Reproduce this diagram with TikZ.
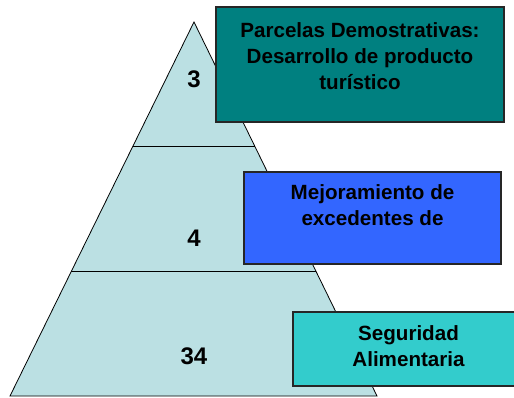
\documentclass[tikz,border=0pt]{standalone}
\usepackage{fontspec}
\setmainfont{Liberation Sans}
\usetikzlibrary{calc}

\definecolor{pyrfill}{HTML}{BBE0E3}
\definecolor{tealbox}{HTML}{008080}
\definecolor{bluebox}{HTML}{3366FF}
\definecolor{cyanbox}{HTML}{33CCCC}

\tikzset{
    level/.style={fill=pyrfill, draw=black, line width=0.8pt, line join=miter},
    infobox/.style={draw=black!85, line width=1.6pt},
    count/.style={anchor=base, inner sep=0pt, font=\fontsize{24}{26}\selectfont\bfseries},
    boxtext/.style={anchor=north, inner sep=0pt, align=center, font=\fontsize{20.6}{26}\selectfont\bfseries}
}

\begin{document}
\begin{tikzpicture}[x=1pt, y=-1pt]
    \useasboundingbox (0,0) rectangle (514,397);
    \clip (0,0) rectangle (514,397);

    \coordinate (Top) at (194,22);
    \coordinate (BL) at (10,396);
    \coordinate (BR) at (377,396);

    \coordinate (L1) at ($(Top)!1/3!(BL)$);
    \coordinate (R1) at ($(Top)!1/3!(BR)$);
    \coordinate (L2) at ($(Top)!2/3!(BL)$);
    \coordinate (R2) at ($(Top)!2/3!(BR)$);

    \draw [level] (Top) -- (BL) -- (BR) -- cycle;
    \draw [line width=0.8pt] (L1) -- (R1);
    \draw [line width=0.8pt] (L2) -- (R2);

    \node [count] (n3) at (194,87) {3};
    \node [count] (n4) at (194,246) {4};
    \node [count] (n34) at (194,364) {34};

    % boxes on the right
    \filldraw [infobox, fill=tealbox] (216,7) rectangle (504,122);
    \filldraw [infobox, fill=bluebox] (244,172) rectangle (501,264);
    \filldraw [infobox, fill=cyanbox] (293,312) rectangle (524,386);

    \node [boxtext] (parcelas) at (360,22.5) {Parcelas Demostrativas:\\Desarrollo de producto\\turístico};
    \node [boxtext] (mejora) at (372.5,184.5) {Mejoramiento de\\excedentes de};
    \node [boxtext] (seguridad) at (408.5,325.5) {Seguridad\\Alimentaria};
\end{tikzpicture}
\end{document}
